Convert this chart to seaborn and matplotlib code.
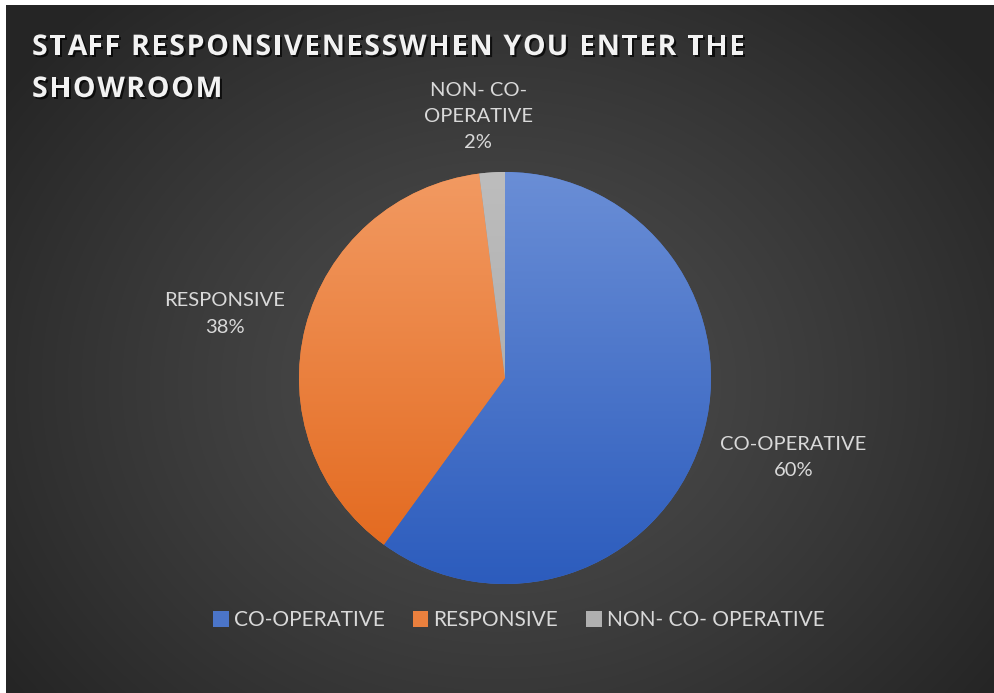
import numpy as np
import matplotlib
matplotlib.use("Agg")
import matplotlib.pyplot as plt
import seaborn as sns
from matplotlib.patches import Patch
from matplotlib import patheffects as pe
from matplotlib.colors import to_rgb
from matplotlib.font_manager import FontProperties

# ---- data ----
categories = ["CO-OPERATIVE", "RESPONSIVE", "NON- CO- OPERATIVE"]
point_labels = ["CO-OPERATIVE", "RESPONSIVE", "NON- CO-\nOPERATIVE"]
shares = [60, 38, 2]
title_lines = ["STAFF RESPONSIVENESSWHEN YOU ENTER THE", "SHOWROOM"]

# ---- style ----
sns.set_theme(style="dark")
plt.rcParams["font.family"] = ["Lato", "DejaVu Sans"]

top_colors = ["#6a8ed6", "#f29a62", "#bdbdbd"]
bottom_colors = ["#2c5cbd", "#e2661a", "#a3a3a3"]
mid_colors = [sns.blend_palette([t, b], 3)[1] for t, b in zip(top_colors, bottom_colors)]
label_color = "#d9d9d9"
# radial distance of each data label (pie radii) and a small nudge
label_dist = [1.45, 1.39, 1.27]
label_nudge = [(0.02, 0.06), (-0.013, -0.035), (-0.05, 0.0)]

W, H = 995, 693
fig = plt.figure(figsize=(W / 100, H / 100), dpi=100, facecolor="white")

# dark panel with a soft radial glow
pl, pt = 6, 5
bg = fig.add_axes([pl / W, 0, 1 - pl / W, 1 - pt / H])
bg.set_axis_off()
ph, pw = H - pt, W - pl
yy, xx = np.mgrid[0:ph, 0:pw]
rr = np.clip(np.hypot((xx - pw * 0.5) / (pw * 0.62), (yy - ph * 0.55) / (ph * 0.75)), 0, 1)
shade = (0x4e + (0x25 - 0x4e) * rr ** 1.2) / 255.0
bg.imshow(np.dstack([shade] * 3), aspect="auto", extent=(0, pw, ph, 0), interpolation="bilinear")
bg.set_xlim(0, pw)
bg.set_ylim(ph, 0)

# pie
cx, cy, R = 505, 378, 206
ax = fig.add_axes([(cx - R) / W, (H - cy - R) / H, 2 * R / W, 2 * R / H])
wedges, _ = ax.pie(shares, colors=mid_colors, startangle=90, counterclock=False,
                   radius=1.0, wedgeprops=dict(linewidth=0))
ax.set_xlim(-1, 1)
ax.set_ylim(-1, 1)
ax.set_axis_off()

grad = np.linspace(0, 1, 256)[:, None]
for w, tc, bc in zip(wedges, top_colors, bottom_colors):
    t, b = np.array(to_rgb(tc)), np.array(to_rgb(bc))
    img = t[None, None, :] * (1 - grad[:, :, None]) + b[None, None, :] * grad[:, :, None]
    img = np.repeat(img, 2, axis=1)
    im = ax.imshow(img, extent=(-1, 1, -1, 1), aspect="auto", interpolation="bilinear", zorder=2)
    im.set_clip_path(w)

# data labels
for w, lab, val, d, (nx, ny) in zip(wedges, point_labels, shares, label_dist, label_nudge):
    ang = np.deg2rad((w.theta1 + w.theta2) / 2)
    ax.text(d * np.cos(ang) + nx, d * np.sin(ang) + ny, f"{lab}\n{val}%", ha="center", va="center",
            color=label_color, fontsize=14.5, linespacing=1.65, clip_on=False)

# title with widened letter spacing
fig.canvas.draw()
renderer = fig.canvas.get_renderer()
tprop = FontProperties(family=["Open Sans", "DejaVu Sans"], weight="bold", size=20.5)


def text_width(s):
    wbar, _, _ = renderer.get_text_width_height_descent("|", tprop, ismath=False)
    wtot, _, _ = renderer.get_text_width_height_descent(s + "|", tprop, ismath=False)
    return wtot - wbar


line1_span = 713
nat = text_width(title_lines[0])
spacing = (line1_span - nat) / (len(title_lines[0]) - 1)
shadow = [pe.withSimplePatchShadow(offset=(1.5, -1.5), shadow_rgbFace="black", alpha=0.7)]
for line, base in zip(title_lines, [55, 97]):
    for i, ch in enumerate(line):
        if ch == " ":
            continue
        x = 32 + text_width(line[:i]) + i * spacing
        fig.text(x / W, 1 - base / H, ch, fontproperties=tprop, color="#f2f2f2",
                 ha="left", va="baseline", path_effects=shadow)

# legend
handles = [Patch(facecolor=c, edgecolor="none") for c in mid_colors]
leg = fig.legend(handles, categories, loc="center", bbox_to_anchor=(519 / W, 1 - 620 / H),
                 ncol=3, frameon=False, fontsize=15, handlelength=0.75, handleheight=0.8,
                 handletextpad=0.25, columnspacing=1.35)
for t in leg.get_texts():
    t.set_color(label_color)

fig.savefig("out.png", dpi=100, facecolor="white")
